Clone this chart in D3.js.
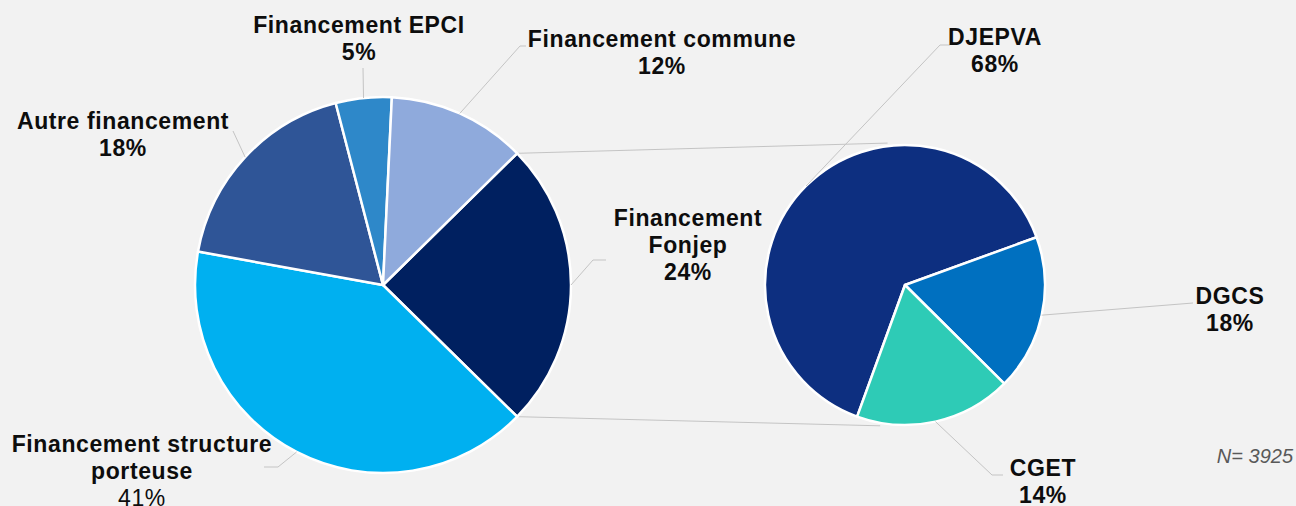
<!DOCTYPE html>
<html>
<head>
<meta charset="utf-8">
<title>Financement</title>
<style>
  body { margin: 0; background: #f2f2f2; }
  svg { display: block; }
  .lbl { font-family: "Liberation Sans", Arial, sans-serif; font-size: 23px; font-weight: bold; fill: #0d0d0d; letter-spacing: 0.6px; }
  .leader { fill: none; stroke: #c4c4c4; stroke-width: 1px; }
  .note { font-family: "Liberation Sans", Arial, sans-serif; font-size: 20px; font-style: italic; fill: #595959; }
</style>
<script src="https://cdn.jsdelivr.net/npm/d3@7"></script>
</head>
<body>
<svg id="chart" width="1296" height="506"></svg>
<script>
// camembert principal (part de chaque secteur)
var mainCategories = ["Financement Fonjep", "Financement structure porteuse", "Autre financement", "Financement EPCI", "Financement commune"];
var mainShares = [24.7, 40.5, 18.1, 4.8, 11.9];
var mainLabels = ["24%", "41%", "18%", "5%", "12%"];
var mainColors = ["#002060", "#00b0f0", "#2f5597", "#2e88c9", "#8faadc"];

// camembert secondaire (détail Fonjep)
var subCategories = ["DJEPVA", "DGCS", "CGET"];
var subShares = [63.9, 18.0, 18.1];
var subLabels = ["68%", "18%", "14%"];
var subColors = ["#0d2f80", "#0070c0", "#2ecbb6"];

var total = "N= 3925";

// mise en page des étiquettes
var mainLayout = [
  { lines: ["Financement", "Fonjep"], x: 688, y: 226, path: [[593, 260], [606, 260]] },
  { lines: ["Financement structure", "porteuse"], x: 142, y: 452, path: [[278, 467], [264, 467]], lightPct: true },
  { lines: ["Autre financement"], x: 123, y: 129, path: [[233, 131]] },
  { lines: ["Financement EPCI"], x: 359, y: 33, path: [[363, 68]] },
  { lines: ["Financement commune"], x: 662, y: 47, path: [[520, 46], [526, 46]] }
];
var subLayout = [
  { lines: ["DJEPVA"], x: 995, y: 45, path: [[940, 45], [950, 45]] },
  { lines: ["DGCS"], x: 1230, y: 304, path: [[1193, 303]] },
  { lines: ["CGET"], x: 1043, y: 476, path: [[992, 475], [1003, 475]] }
];

var svg = d3.select("#chart");
var lineH = 27;

var main = { cx: 383, cy: 285, r: 188 };
var sub = { cx: 905, cy: 285, r: 140 };

// le secteur Fonjep est centré sur l'horizontale (côté droit)
var sumMain = d3.sum(mainShares);
var mainStart = Math.PI / 2 - Math.PI * mainShares[0] / sumMain;
var mainPie = d3.pie().sort(null).startAngle(mainStart).endAngle(mainStart + 2 * Math.PI);
var subStart = 200 * Math.PI / 180;
var subPie = d3.pie().sort(null).startAngle(subStart).endAngle(subStart + 2 * Math.PI);

function pt(c, a, r) {
  return [c.cx + r * Math.sin(a), c.cy - r * Math.cos(a)];
}

var mainArcs = mainPie(mainShares);
var subArcs = subPie(subShares);

// lignes de liaison entre les deux camemberts
var fon = mainArcs[0];
var links = [
  [pt(main, fon.startAngle, main.r), pt(sub, -7 * Math.PI / 180, sub.r + 3)],
  [pt(main, fon.endAngle, main.r), pt(sub, 190 * Math.PI / 180, sub.r + 3)]
];
svg.selectAll("path.link").data(links).enter().append("path")
  .attr("class", "leader")
  .attr("d", d3.line());

function drawPie(c, arcs, colors, layout, labels) {
  var arc = d3.arc().innerRadius(0).outerRadius(c.r);
  var g = svg.append("g").attr("transform", "translate(" + c.cx + "," + c.cy + ")");
  g.selectAll("path").data(arcs).enter().append("path")
    .attr("d", arc)
    .attr("fill", function(d, i) { return colors[i]; })
    .attr("stroke", "#ffffff")
    .attr("stroke-width", 2.5)
    .attr("stroke-linejoin", "round");

  // traits de rappel
  svg.selectAll(null).data(arcs).enter().append("path")
    .attr("class", "leader")
    .attr("d", function(d, i) {
      var mid = (d.startAngle + d.endAngle) / 2;
      return d3.line()([pt(c, mid, c.r)].concat(layout[i].path));
    });

  // étiquettes
  var t = svg.selectAll(null).data(arcs).enter().append("text")
    .attr("class", "lbl")
    .attr("text-anchor", "middle");
  t.each(function(d, i) {
    var L = layout[i];
    var sel = d3.select(this);
    L.lines.concat([labels[i]]).forEach(function(s, k) {
      var ts = sel.append("tspan").attr("x", L.x).attr("y", L.y + k * lineH).text(s);
      if (k === L.lines.length && L.lightPct) ts.style("font-weight", "normal");
    });
  });
}

drawPie(main, mainArcs, mainColors, mainLayout, mainLabels);
drawPie(sub, subArcs, subColors, subLayout, subLabels);

svg.append("text").attr("class", "note")
  .attr("x", 1293).attr("y", 463)
  .attr("text-anchor", "end")
  .text(total);
</script>
</body>
</html>
